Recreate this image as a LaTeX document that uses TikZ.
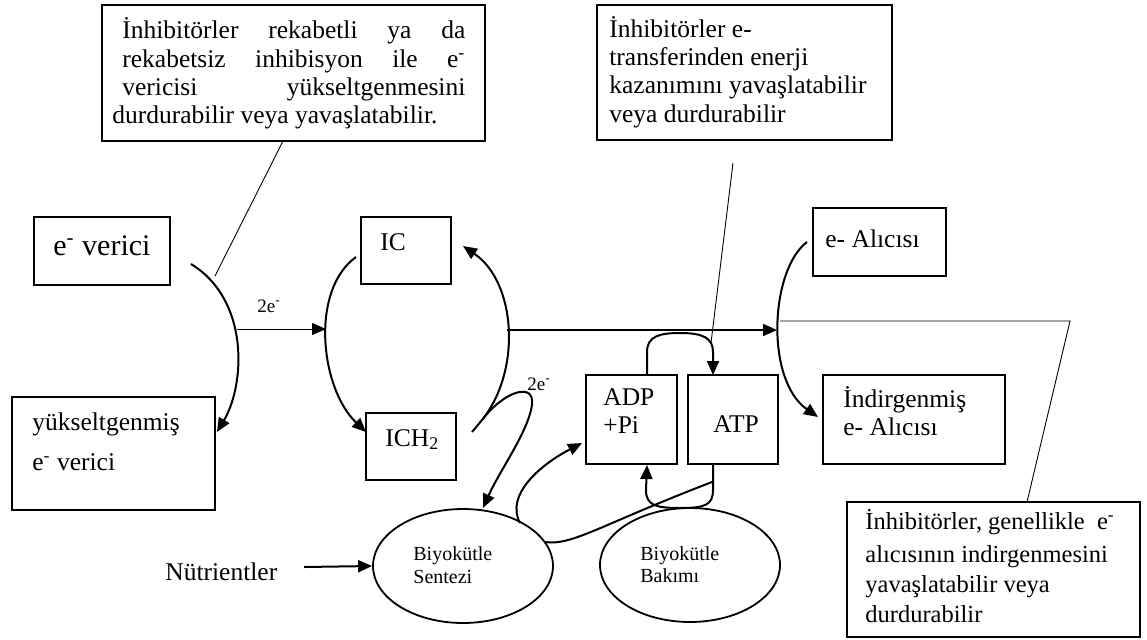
\documentclass[tikz,border=0pt]{standalone}
\usepackage{fontspec}
\setmainfont{Liberation Serif}
\usetikzlibrary{arrows.meta,shapes.geometric}
\begin{document}
\begin{tikzpicture}[x=0.5pt,y=-0.5pt,
  box/.style={draw, line width=0.9pt, rectangle, inner sep=0pt},
  oval/.style={draw, line width=0.9pt, ellipse, inner sep=0pt, minimum width=90pt, minimum height=57pt},
  txt/.style={anchor=base west, inner sep=0pt, font=\fontsize{12.75}{15}\selectfont},
  txts/.style={anchor=base west, inner sep=0pt, font=\fontsize{12.25}{15}\selectfont},
  small/.style={anchor=base west, inner sep=0pt, font=\fontsize{10}{12}\selectfont},
  lbl/.style={anchor=base west, inner sep=0pt, font=\fontsize{9.5}{11}\selectfont},
  big/.style={anchor=base west, inner sep=0pt, font=\fontsize{15}{18}\selectfont},
  curve/.style={line width=1pt},
  conn/.style={line width=0.45pt},
  tip/.style={-{Triangle[length=7pt,width=6pt]}}
]
\useasboundingbox (0,0) rectangle (1147,639);

% boxes
\node[box, minimum width=191.5pt, minimum height=68pt] (b1) at (293.5,73) {};
\node[box, minimum width=147.5pt, minimum height=67.5pt] (b2) at (744.5,72.5) {};
\node[box, minimum width=68pt, minimum height=34pt] (ever) at (102,251) {};
\node[box, minimum width=45pt, minimum height=33.5pt] (ic) at (406,250.5) {};
\node[box, minimum width=66.5pt, minimum height=34pt] (eacc) at (879.5,242) {};
\node[box, minimum width=101.5pt, minimum height=56.5pt] (yuk) at (113.5,453.5) {};
\node[box, minimum width=45pt, minimum height=33.5pt] (ich) at (411,446.5) {};
\node[box, minimum width=45.5pt, minimum height=44.5pt] (adp) at (631.5,419.5) {};
\node[box, minimum width=45pt, minimum height=44.5pt] (atp) at (733,419.5) {};
\node[box, minimum width=91pt, minimum height=44.5pt] (ind) at (914,419.5) {};
\node[box, minimum width=146.5pt, minimum height=67.5pt] (b4) at (993.5,569.5) {};
\node[oval] (sent) at (463,566) {};
\node[oval] (bak) at (690,565) {};

% texts
\node[txt] (t1a) at (122,38) {\makebox[171.5pt][s]{İnhibitörler rekabetli ya da}};
\node[txt] (t1b) at (122,67) {\makebox[171.5pt][s]{rekabetsiz inhibisyon ile e\textsuperscript{-}}};
\node[txt] (t1c) at (122,95) {\makebox[171.5pt][s]{vericisi yükseltgenmesini}};
\node[txt] (t1d) at (112,123) {durdurabilir veya yavaşlatabilir.};

\node[txt] (t2a) at (609,37) {İnhibitörler e-};
\node[txt] (t2b) at (609,65) {transferinden enerji};
\node[txt] (t2c) at (609,93) {kazanımını yavaşlatabilir};
\node[txt] (t2d) at (609,122) {veya durdurabilir};

\node[big] (tever) at (53,255) {e\textsuperscript{-} verici};
\node[txt] (tic) at (380,250) {IC};
\node[txt] (teacc) at (825,247) {e- Alıcısı};
\node[txt] (tyuka) at (32,430) {yükseltgenmiş};
\node[txt] (tyukb) at (32,470) {e\textsuperscript{-} verici};
\node[txt] (tich) at (385,446) {ICH\textsubscript{2}};
\node[txt] (tadpa) at (603,405) {ADP};
\node[txt] (tadpb) at (603,433) {+Pi};
\node[txt] (tatp) at (713,432) {ATP};
\node[txt] (tinda) at (843,407) {İndirgenmiş};
\node[txt] (tindb) at (843,435) {e- Alıcısı};

\node[txts] (t4a) at (865,529) {İnhibitörler, genellikle\ \ e\textsuperscript{-}};
\node[txts] (t4b) at (865,562) {alıcısının indirgenmesini};
\node[txts] (t4c) at (865,592) {yavaşlatabilir veya};
\node[txts] (t4d) at (865,622) {durdurabilir};

\node[small] (tsa) at (413,560) {Biyokütle};
\node[small] (tsb) at (413,583) {Sentezi};
\node[small] (tba) at (640,560) {Biyokütle};
\node[small] (tbb) at (640,582) {Bakımı};
\node[txt] (tnut) at (165,580) {Nütrientler};
\node[lbl] (l2ea) at (257,312) {2e\textsuperscript{-}};
\node[lbl] (l2eb) at (527,390) {2e\textsuperscript{-}};

% connector coordinates
\coordinate (b1foot) at (283,141);
\coordinate (b1end) at (215,276);
\coordinate (la0) at (191,264);
\coordinate (la1) at (217,432);
\coordinate (h0) at (237,329);
\coordinate (h1) at (326,329);
\coordinate (ica0) at (356,257);
\coordinate (ica1) at (366,432);
\coordinate (ra0) at (472,432);
\coordinate (ra1) at (482,420);
\coordinate (ra2) at (463,246);
\coordinate (m0) at (507,330);
\coordinate (m1) at (777,330);
\coordinate (lp1) at (483,508);
\coordinate (ad0) at (647,375);
\coordinate (ad1) at (713,375);
\coordinate (at0) at (713,464);
\coordinate (at1) at (647,465);
\coordinate (se0) at (520,523);
\coordinate (se1) at (582,443);
\coordinate (sf0) at (545,542);
\coordinate (sf1) at (712,482);
\coordinate (n0) at (304,567);
\coordinate (b2a) at (733,163);
\coordinate (b2b) at (711,343);
\coordinate (ea0) at (807,242);
\coordinate (ea1) at (818,417);
\coordinate (k0) at (780,321);
\coordinate (k1) at (1070,321);
\coordinate (k2) at (1027,502);

% connectors
\draw[conn] (b1foot) -- (b1end);
\draw[curve,tip] (la0) .. controls (250,300) and (245,385) .. (la1);
\draw[conn,tip] (h0) -- (h1);
\draw[curve,tip] (ica0) .. controls (310,290) and (320,388) .. (ica1);
\draw[curve] (ra0) -- (ra1);
\draw[curve,tip] (ra1) .. controls (522,370) and (516,282) .. (ra2);
\draw[curve,tip] (ra1) .. controls (505,390) and (535,382) .. (532,405) .. controls (528,432) and (500,470) .. (lp1);
\draw[line width=0.8pt,tip] (m0) -- (m1);
\draw[curve,tip] (ad0) -- (647,352) .. controls (647,336) and (660,333) .. (680,333) .. controls (703,333) and (713,338) .. (713,352) -- (ad1);
\draw[curve,tip] (at0) -- (713,490) .. controls (713,505) and (705,508) .. (680,508) .. controls (655,508) and (646,505) .. (646,490) -- (at1);
\draw[curve,tip] (se0) .. controls (505,495) and (540,465) .. (se1);
\draw[curve] (sf0) .. controls (572,546) and (600,525) .. (sf1);
\draw[curve,tip] (n0) -- (sent.west);
\draw[conn] (b2a) -- (b2b);
\draw[curve,tip] (ea0) .. controls (770,270) and (765,380) .. (ea1);
\draw[conn] (k0) -- (k1) -- (k2);
\end{tikzpicture}
\end{document}
